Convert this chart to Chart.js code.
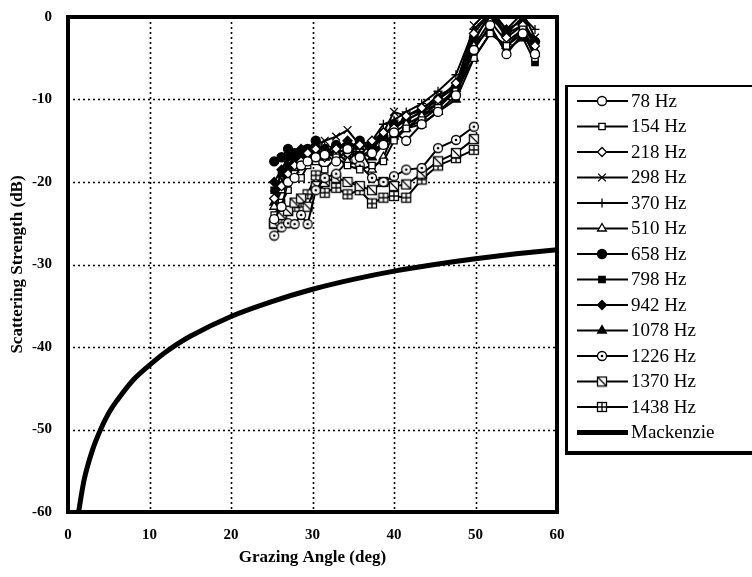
<!DOCTYPE html>
<html>
<head>
<meta charset="utf-8">
<script src="https://cdn.jsdelivr.net/npm/chart.js@4.4.1/dist/chart.umd.min.js"></script>
<style>
  html, body { margin: 0; padding: 0; background: #fff; }
  #wrap { width: 752px; height: 577px; }
</style>
</head>
<body>
<div id="wrap"><canvas id="scatterChart"></canvas></div>
<script>
// grazing angles (deg) where the measurements sit
const angles = [25.3, 26.2, 27.0, 27.8, 28.6, 29.4, 30.4, 31.5, 32.9, 34.3, 35.8, 37.3,
                38.7, 40.0, 41.5, 43.4, 45.4, 47.6, 49.8, 51.8, 53.8, 55.8, 57.3];

// scattering strength (dB) per frequency
const s78   = [-24.5, -23, -20, -19.5, -18, -17.5, -17, -16.7, -17.5, -16, -17, -16.5, -15.5, -14, -15, -13, -11.5, -9.5, -4, -1, -4.5, -2, -4.5];
const s154  = [-24, -22.5, -21, -19, -19.5, -18, -17.5, -18.5, -17, -18, -18.5, -18, -17.5, -15, -13.5, -12.5, -11, -9, -5, -2, -3.5, -1.5, -5];
const s218  = [-22, -20.5, -19, -18, -17.5, -16.5, -16, -17, -16, -16.5, -15.5, -15, -14, -13.5, -12, -11, -10, -8, -2, 0.5, -2.5, -1, -3.5];
const s298  = [-21.5, -19, -18, -17, -16.5, -16, -15.5, -15, -14.5, -13.7, -15.5, -16, -14, -11.5, -12, -11.3, -9.5, -8.5, -1, 1, -1.5, 0.5, -2.5];
const s370  = [-22, -20, -18.5, -17.5, -17, -16, -16.5, -15.5, -16, -15, -16, -15, -13, -12.5, -11.5, -10.5, -9, -7, -1.5, 0.5, -2, 0, -1.5];
const s510  = [-23, -21, -19.5, -18.5, -18, -17, -16.5, -17, -16.5, -17.5, -16, -18.5, -17, -14, -13, -12, -10.5, -9, -3.5, -0.5, -3, -1.5, -4];
const s658  = [-17.5, -17, -16, -16.5, -17, -16, -15, -16.5, -15.5, -16, -15, -16, -14.5, -13, -12.5, -11.5, -10, -8.5, -2.5, 0, -2, -1, -3];
const s798  = [-21, -19, -18, -17, -16.5, -17, -16, -16, -17, -16.5, -17, -16, -15.5, -14.5, -13.5, -12, -11, -8.5, -3.5, -1.5, -4, -2.5, -5.5];
const s942  = [-20, -18.5, -17, -16.5, -16, -17.5, -17, -16, -16.5, -15, -16.5, -15.5, -14, -13.5, -12.5, -11.5, -10.5, -9, -3, 0.5, -1.5, -0.5, -3];
const s1078 = [-22.5, -20.5, -19, -18, -17.5, -16.5, -16, -17, -16.5, -16, -16.5, -17, -15.5, -14.5, -13.5, -13, -11.5, -10, -5, -2, -3.5, -2, -4.5];
const s1226 = [-26.5, -25.5, -25, -25.1, -24, -25.1, -21, -19.5, -19, -17.5, -18, -19.5, -20, -19.3, -18.5, -18.3, -15.9, -14.9, -13.3];
const s1370 = [-25, -24, -23.5, -22.5, -22, -23, -20.5, -20, -19.5, -20, -20.5, -21, -20, -20.5, -20.3, -19, -17.5, -16.5, -14.8];
const s1438 = [-25.1, -24.5, -23.5, -23, -22.5, -21.5, -19.2, -21.3, -20.7, -21.5, -21, -22.6, -21.9, -21.7, -21.9, -19.7, -18, -17.1, -16.1];

// Mackenzie curve
const mackAngles = [1.3, 2, 3, 4, 5, 6, 8, 10, 12, 15, 20, 25, 30, 35, 40, 45, 50, 55, 60];
const mackValues = [-60, -56, -52.5, -50, -48, -46.5, -44, -42.2, -40.6, -38.7, -36.3, -34.5, -33, -31.8, -30.8, -30, -29.3, -28.7, -28.2];

const xTicks = [0, 10, 20, 30, 40, 50, 60];
const yTicks = [0, -10, -20, -30, -40, -50, -60];

// little canvases for the markers chart.js has no style for
function markerCanvas(draw) {
  const c = document.createElement("canvas");
  c.width = 12; c.height = 12;
  const g = c.getContext("2d");
  g.strokeStyle = "#000"; g.fillStyle = "#fff"; g.lineWidth = 1.3;
  draw(g);
  return c;
}
const dotCircle = markerCanvas(g => {
  g.beginPath(); g.arc(6, 6, 4.5, 0, Math.PI * 2); g.fill(); g.stroke();
  g.fillStyle = "#000"; g.beginPath(); g.arc(6, 6, 1.3, 0, Math.PI * 2); g.fill();
});
const slashSquare = markerCanvas(g => {
  g.fillRect(1.5, 1.5, 9, 9); g.strokeRect(1.5, 1.5, 9, 9);
  g.beginPath(); g.moveTo(1.5, 1.5); g.lineTo(10.5, 10.5); g.stroke();
});
const gridSquare = markerCanvas(g => {
  g.fillRect(1.5, 1.5, 9, 9); g.strokeRect(1.5, 1.5, 9, 9);
  g.beginPath(); g.moveTo(6, 1.5); g.lineTo(6, 10.5); g.moveTo(1.5, 6); g.lineTo(10.5, 6); g.stroke();
});

function series(label, ys, style, fill, radius) {
  return {
    label: label,
    data: ys.map((y, i) => ({ x: angles[i], y: y })),
    borderColor: "#000",
    borderWidth: 2,
    pointStyle: style,
    pointRadius: radius || 4.5,
    pointBackgroundColor: fill,
    pointBorderColor: "#000",
    pointBorderWidth: 1.3,
    showLine: true,
    tension: 0,
  };
}

const datasets = [
  series("78 Hz", s78, "circle", "#fff"),
  series("154 Hz", s154, "rect", "#fff"),
  series("218 Hz", s218, "rectRot", "#fff"),
  series("298 Hz", s298, "crossRot", "#fff", 5.5),
  series("370 Hz", s370, "cross", "#fff", 4.5),
  series("510 Hz", s510, "triangle", "#fff", 5),
  series("658 Hz", s658, "circle", "#000"),
  series("798 Hz", s798, "rect", "#000"),
  series("942 Hz", s942, "rectRot", "#000"),
  series("1078 Hz", s1078, "triangle", "#000", 5),
  series("1226 Hz", s1226, dotCircle, "#fff"),
  series("1370 Hz", s1370, slashSquare, "#fff"),
  series("1438 Hz", s1438, gridSquare, "#fff"),
  {
    label: "Mackenzie",
    data: mackAngles.map((x, i) => ({ x: x, y: mackValues[i] })),
    borderColor: "#000",
    borderWidth: 5,
    pointRadius: 0,
    showLine: true,
    tension: 0.3,
  },
];

// dotted grid inside the frame, thick frame on top
const dottedGrid = {
  id: "dottedGrid",
  beforeDatasetsDraw(chart) {
    const { ctx, chartArea: a, scales } = chart;
    ctx.save();
    ctx.strokeStyle = "#000";
    ctx.lineWidth = 1.6;
    ctx.setLineDash([2, 3]);
    xTicks.slice(1, -1).forEach(v => {
      const x = Math.round(scales.x.getPixelForValue(v)) + 0.5;
      ctx.beginPath(); ctx.moveTo(x, a.top); ctx.lineTo(x, a.bottom); ctx.stroke();
    });
    yTicks.slice(1, -1).forEach(v => {
      const y = Math.round(scales.y.getPixelForValue(v)) + 0.5;
      ctx.beginPath(); ctx.moveTo(a.left, y); ctx.lineTo(a.right, y); ctx.stroke();
    });
    ctx.restore();
  },
  afterDatasetsDraw(chart) {
    const { ctx, chartArea: a } = chart;
    ctx.save();
    ctx.strokeStyle = "#000";
    ctx.lineWidth = 4;
    ctx.strokeRect(a.left, a.top, a.right - a.left, a.bottom - a.top);
    ctx.restore();
  },
};

// boxed legend with line + marker samples
const boxLegend = {
  id: "boxLegend",
  afterDraw(chart) {
    const ctx = chart.ctx;
    ctx.save();
    ctx.fillStyle = "#000";
    ctx.fillRect(565, 85, 3, 370);
    ctx.fillRect(565, 85, 200, 2);
    ctx.fillRect(565, 451, 200, 4);
    chart.data.datasets.forEach((ds, i) => {
      const y = 101 + i * 25.5;
      ctx.strokeStyle = "#000";
      ctx.setLineDash([]);
      ctx.lineWidth = ds.borderWidth;
      ctx.beginPath(); ctx.moveTo(577, y); ctx.lineTo(628, y); ctx.stroke();
      if (ds.pointRadius > 0) {
        ctx.fillStyle = ds.pointBackgroundColor;
        ctx.lineWidth = ds.pointBorderWidth;
        Chart.helpers.drawPoint(ctx, {
          pointStyle: ds.pointStyle, radius: ds.pointRadius, rotation: 0, borderWidth: ds.pointBorderWidth,
        }, 602, y);
      }
      ctx.fillStyle = "#000";
      ctx.font = '19px "Liberation Serif"';
      ctx.textBaseline = "middle";
      ctx.textAlign = "left";
      ctx.fillText(ds.label, 631, y + 1);
    });
    ctx.restore();
  },
};

const tickFont = { family: "Liberation Serif", size: 15, weight: "bold" };
const titleFont = { family: "Liberation Serif", size: 17, weight: "bold" };

const scatterChart = document.querySelector("#scatterChart");
const graph = new Chart(scatterChart, {
  type: "scatter",
  data: { datasets: datasets },
  plugins: [dottedGrid, boxLegend],
  options: {
    responsive: true,
    maintainAspectRatio: false,
    animation: false,
    layout: { padding: { top: 13, right: 195, left: 0, bottom: 0 } },
    plugins: {
      legend: { display: false },
      tooltip: { enabled: false },
    },
    scales: {
      x: {
        type: "linear",
        min: 0,
        max: 60,
        afterBuildTicks: s => { s.ticks = xTicks.map(v => ({ value: v })); },
        afterFit: s => { s.height = 65; },
        grid: { display: false },
        border: { display: false },
        ticks: { color: "#000", font: tickFont, padding: 6, maxRotation: 0 },
        title: { display: true, text: "Grazing Angle (deg)", color: "#000", font: titleFont, padding: { top: 0, bottom: 9 } },
      },
      y: {
        type: "linear",
        min: -60,
        max: 0,
        afterBuildTicks: s => { s.ticks = yTicks.map(v => ({ value: v })); },
        afterFit: s => { s.width = 68; },
        grid: { display: false },
        border: { display: false },
        ticks: { color: "#000", font: tickFont, padding: 8 },
        title: { display: true, text: "Scattering Strength (dB)", color: "#000", font: titleFont, padding: { top: 7, bottom: 0 } },
      },
    },
  },
});
</script>
</body>
</html>
